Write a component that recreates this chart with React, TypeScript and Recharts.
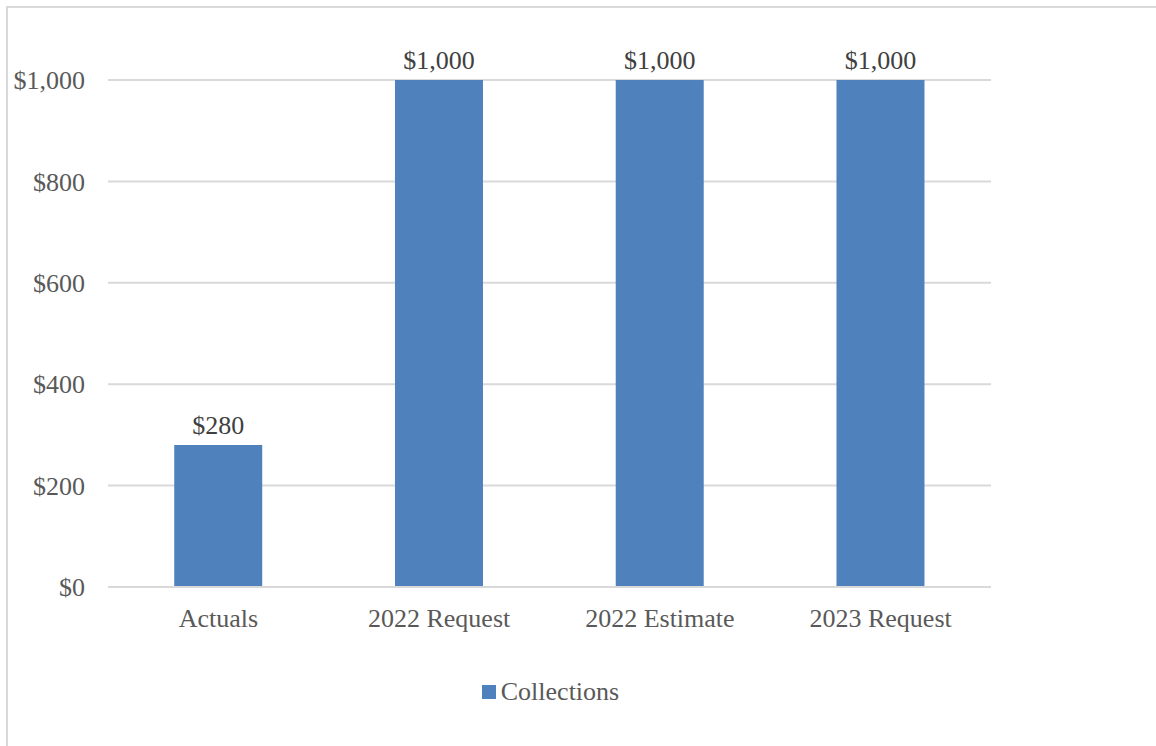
import React from 'react';
import { BarChart, Bar, XAxis, YAxis, CartesianGrid, Legend, LabelList } from 'recharts';

const categories = ['Actuals', '2022 Request', '2022 Estimate', '2023 Request'];
const collections = [280, 1000, 1000, 1000];
const yTicks = [0, 200, 400, 600, 800, 1000];

const data = categories.map((name, i) => ({ name, collections: collections[i] }));

const fmt = (v: number) => '$' + v.toLocaleString('en-US');
const font = '"Liberation Serif", "Times New Roman", serif';

const LegendBox = () => (
  <div style={{ display: 'flex', justifyContent: 'center', alignItems: 'center', fontFamily: font, fontSize: 26, color: '#595959', paddingTop: 20, paddingLeft: 102 }}>
    <span style={{ width: 14, height: 14, background: '#4F81BD', display: 'inline-block', marginRight: 5 }} />
    <span>Collections</span>
  </div>
);

const App = () => {
  return (
    <div style={{ position: 'absolute', left: 6, top: 6, width: 1150, height: 740, borderTop: '2px solid #d9d9d9', borderLeft: '2px solid #d9d9d9', background: '#fff' }}>
      <BarChart
        width={1148}
        height={738}
        data={data}
        margin={{ top: 72, right: 165, left: 0, bottom: 0 }}
        barCategoryGap="30%"
      >
        <CartesianGrid vertical={false} stroke="#d9d9d9" strokeWidth={2} />
        <XAxis
          dataKey="name"
          axisLine={{ stroke: '#d9d9d9', strokeWidth: 2 }}
          tickLine={false}
          tickSize={0}
          tickMargin={22}
          height={70}
          tick={{ fill: '#595959', fontSize: 26, fontFamily: font }}
        />
        <YAxis
          domain={[0, 1000]}
          ticks={yTicks}
          width={100}
          axisLine={false}
          tickLine={false}
          tickSize={0}
          tickMargin={23}
          tickFormatter={fmt}
          tick={{ fill: '#595959', fontSize: 26, fontFamily: font }}
        />
        <Legend verticalAlign="bottom" height={89} content={<LegendBox />} />
        <Bar dataKey="collections" name="Collections" fill="#4F81BD" isAnimationActive={false}>
          <LabelList dataKey="collections" position="top" offset={11} formatter={(v: any) => fmt(Number(v))} fill="#404040" fontSize={26} fontFamily={font} />
        </Bar>
      </BarChart>
    </div>
  );
};

export default App;
